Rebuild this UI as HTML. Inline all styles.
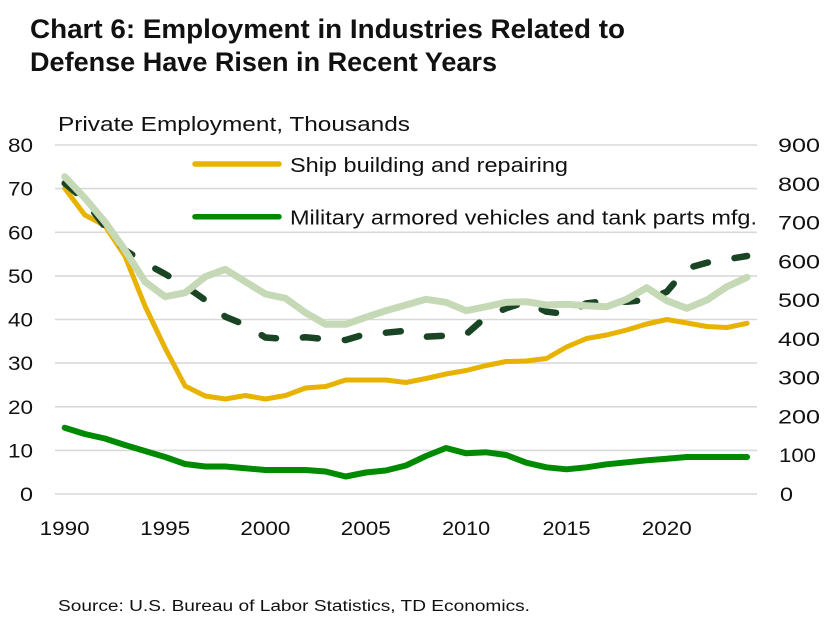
<!DOCTYPE html>
<html>
<head>
<meta charset="utf-8">
<style>
  html, body { margin: 0; padding: 0; background: #ffffff; }
  svg { display: block; }
  text { font-family: "Liberation Sans", "DejaVu Sans", sans-serif; fill: #111111; }
</style>
</head>
<body>
<svg width="827" height="617" viewBox="0 0 827 617" xmlns="http://www.w3.org/2000/svg">
  <rect x="0" y="0" width="827" height="617" fill="#ffffff"/>

  <!-- Title -->
  <text x="30" y="38" font-size="27" font-weight="bold" textLength="595" lengthAdjust="spacingAndGlyphs">Chart 6: Employment in Industries Related to</text>
  <text x="30" y="71" font-size="27" font-weight="bold" textLength="467" lengthAdjust="spacingAndGlyphs">Defense Have Risen in Recent Years</text>

  <!-- Subtitle -->
  <text x="58" y="131" font-size="20" textLength="352" lengthAdjust="spacingAndGlyphs">Private Employment, Thousands</text>

  <!-- Gridlines -->
  <g stroke="#d9d9d9" stroke-width="1.6">
    <line x1="55" y1="145" x2="757" y2="145"/>
    <line x1="55" y1="188.6" x2="757" y2="188.6"/>
    <line x1="55" y1="232.3" x2="757" y2="232.3"/>
    <line x1="55" y1="275.9" x2="757" y2="275.9"/>
    <line x1="55" y1="319.5" x2="757" y2="319.5"/>
    <line x1="55" y1="363.1" x2="757" y2="363.1"/>
    <line x1="55" y1="406.8" x2="757" y2="406.8"/>
    <line x1="55" y1="450.4" x2="757" y2="450.4"/>
    <line x1="55" y1="494" x2="757" y2="494"/>
  </g>

  <!-- Left axis labels -->
  <g font-size="19" text-anchor="end">
    <text x="33" y="152" textLength="25" lengthAdjust="spacingAndGlyphs">80</text>
    <text x="33" y="195.6" textLength="25" lengthAdjust="spacingAndGlyphs">70</text>
    <text x="33" y="239.3" textLength="25" lengthAdjust="spacingAndGlyphs">60</text>
    <text x="33" y="282.9" textLength="25" lengthAdjust="spacingAndGlyphs">50</text>
    <text x="33" y="326.5" textLength="25" lengthAdjust="spacingAndGlyphs">40</text>
    <text x="33" y="370.1" textLength="25" lengthAdjust="spacingAndGlyphs">30</text>
    <text x="33" y="413.8" textLength="25" lengthAdjust="spacingAndGlyphs">20</text>
    <text x="33" y="457.4" textLength="25" lengthAdjust="spacingAndGlyphs">10</text>
    <text x="33" y="501" textLength="13" lengthAdjust="spacingAndGlyphs">0</text>
  </g>

  <!-- Right axis labels (900 at 145 -> 0 at 494, 9 intervals) -->
  <g font-size="19">
    <text x="778" y="152" textLength="42" lengthAdjust="spacingAndGlyphs">900</text>
    <text x="778" y="190.8" textLength="42" lengthAdjust="spacingAndGlyphs">800</text>
    <text x="778" y="229.6" textLength="42" lengthAdjust="spacingAndGlyphs">700</text>
    <text x="778" y="268.3" textLength="42" lengthAdjust="spacingAndGlyphs">600</text>
    <text x="778" y="307.1" textLength="42" lengthAdjust="spacingAndGlyphs">500</text>
    <text x="778" y="345.9" textLength="42" lengthAdjust="spacingAndGlyphs">400</text>
    <text x="778" y="384.7" textLength="42" lengthAdjust="spacingAndGlyphs">300</text>
    <text x="778" y="423.4" textLength="42" lengthAdjust="spacingAndGlyphs">200</text>
    <text x="779" y="462.2" textLength="37" lengthAdjust="spacingAndGlyphs">100</text>
    <text x="780" y="501" textLength="13" lengthAdjust="spacingAndGlyphs">0</text>
  </g>

  <!-- X axis labels -->
  <g font-size="19" text-anchor="middle">
    <text x="64.7" y="535" textLength="50" lengthAdjust="spacingAndGlyphs">1990</text>
    <text x="165.1" y="535" textLength="50" lengthAdjust="spacingAndGlyphs">1995</text>
    <text x="265.4" y="535" textLength="50" lengthAdjust="spacingAndGlyphs">2000</text>
    <text x="365.8" y="535" textLength="50" lengthAdjust="spacingAndGlyphs">2005</text>
    <text x="466.1" y="535" textLength="48" lengthAdjust="spacingAndGlyphs">2010</text>
    <text x="566.5" y="535" textLength="48" lengthAdjust="spacingAndGlyphs">2015</text>
    <text x="666.8" y="535" textLength="50" lengthAdjust="spacingAndGlyphs">2020</text>
  </g>

  <!-- Series -->
  <g fill="none" stroke-linejoin="round" stroke-linecap="round">
    <!-- Ship building (orange) -->
    <polyline stroke="#e8b300" stroke-width="5"
      points="64.7,188.3 84.8,215 104.8,225.5 124.9,256 145,306 165.1,348 185.1,386 205.2,396 225.3,399 245.3,395.5 265.4,399 285.5,395.5 305.5,388 325.6,386.5 345.7,380 365.8,380 385.8,380 405.9,382.5 426,378.5 446,374 466.1,370.5 486.2,365.5 506.2,361.5 526.3,361 546.4,358.5 566.5,347 586.5,338.5 606.6,335 626.7,330 646.7,324 666.8,319.5 686.9,323 706.9,326.5 727,327.5 747.1,323.3"/>
    <!-- Military vehicles (green) -->
    <polyline stroke="#008a00" stroke-width="6"
      points="64.7,427.7 84.8,434 104.8,438.5 124.9,445 145,451 165.1,457 185.1,464 205.2,466.5 225.3,466.5 245.3,468.3 265.4,470 285.5,470 305.5,470 325.6,471.5 345.7,476.5 365.8,472.5 385.8,470.5 405.9,465.5 426,456 446,448 466.1,453.3 486.2,452.3 506.2,455 526.3,462.7 546.4,467.3 566.5,469.3 586.5,467.3 606.6,464.3 626.7,462.3 646.7,460.3 666.8,458.7 686.9,457 706.9,457 727,457 747.1,457"/>
    <!-- Dashed dark green -->
    <polyline stroke="#1a4525" stroke-width="6.5" stroke-dasharray="15 27"
      points="64.7,183.3 84.8,200 104.8,226.7 124.9,250 145,263 165.1,274 185.1,286 205.2,300 225.3,316.7 245.3,325 265.4,337.5 285.5,339 305.5,337.3 325.6,339 345.7,340 365.8,334 385.8,332.7 405.9,330.7 426,336.7 446,335.7 466.1,334.3 486.2,316.7 506.2,308.3 526.3,301.7 546.4,311.7 566.5,314 586.5,303.3 606.6,301 626.7,301.7 646.7,300 666.8,291.7 686.9,268.3 706.9,262.7 727,259.3 747.1,256"/>
    <!-- Light green -->
    <polyline stroke="#c6d9b6" stroke-width="7"
      points="64.7,176.7 84.8,198 104.8,221.7 124.9,250 145,281.7 165.1,296.7 185.1,292.7 205.2,276.7 225.3,269.3 245.3,281.7 265.4,294 285.5,298.3 305.5,312.7 325.6,324.3 345.7,324.3 365.8,317.3 385.8,310.7 405.9,305 426,299.3 446,302.3 466.1,310.7 486.2,306.7 506.2,302.3 526.3,301.7 546.4,305 566.5,304.3 586.5,305.7 606.6,306.7 626.7,299.3 646.7,287.7 666.8,300.7 686.9,308.3 706.9,300 727,286.7 747.1,277.3"/>
  </g>

  <!-- Legend -->
  <g stroke-linecap="round" stroke-width="5.5">
    <line x1="195" y1="164" x2="279" y2="164" stroke="#e8b300"/>
    <line x1="195" y1="216.7" x2="279" y2="216.7" stroke="#008a00"/>
  </g>
  <text x="290" y="172" font-size="20" textLength="278" lengthAdjust="spacingAndGlyphs">Ship building and repairing</text>
  <text x="290" y="224.5" font-size="20" textLength="467" lengthAdjust="spacingAndGlyphs">Military armored vehicles and tank parts mfg.</text>

  <!-- Source -->
  <text x="58" y="611" font-size="15.5" textLength="472" lengthAdjust="spacingAndGlyphs">Source: U.S. Bureau of Labor Statistics, TD Economics.</text>
</svg>
</body>
</html>
